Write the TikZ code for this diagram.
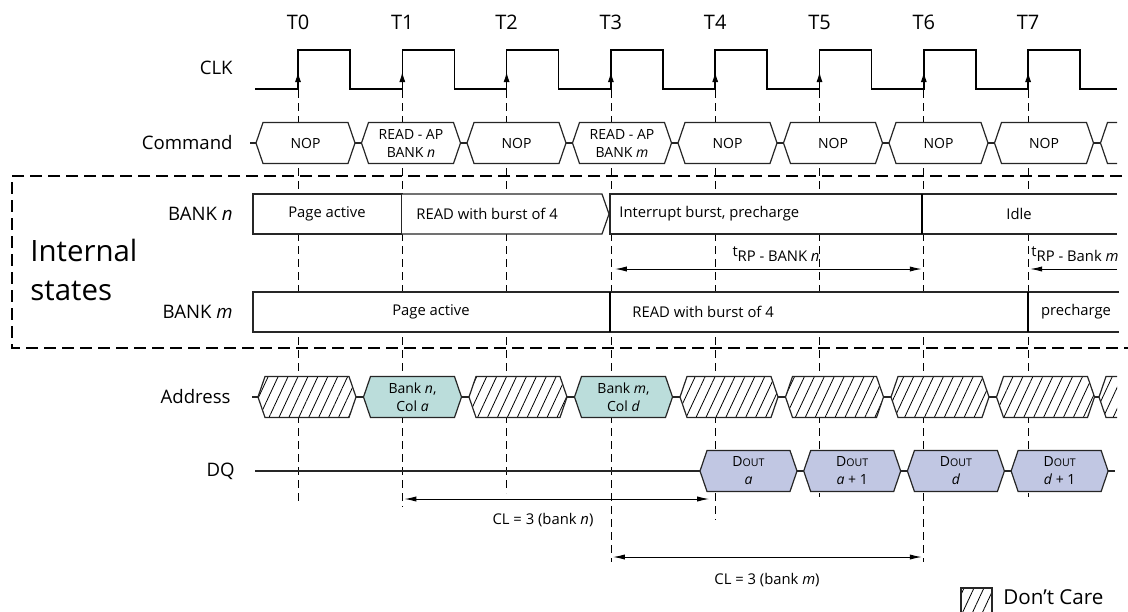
\documentclass[tikz,border=0pt]{standalone}
\usepackage{fontspec}
\setmainfont{Open Sans}
\usetikzlibrary{arrows.meta,patterns.meta}
\pgfdeclarelayer{edgelayer}
\pgfsetlayers{edgelayer,main}
\definecolor{addrfill}{RGB}{187,221,219}
\definecolor{dqfill}{RGB}{193,199,227}
\tikzstyle{clk}=[draw=black, line width=0.75pt]
\tikzstyle{vline}=[draw=black, line width=0.4pt, dash pattern=on 4pt off 2.5pt]
\tikzstyle{statesframe}=[draw=black, line width=1.25pt, dash pattern=on 6pt off 3pt]
\tikzstyle{wire}=[draw=black!85, line width=0.6pt]
\tikzstyle{cell}=[wire, fill=white]
\tikzstyle{addrcell}=[wire, fill=addrfill]
\tikzstyle{dqcell}=[wire, fill=dqfill]
\tikzstyle{dontcarefill}=[preaction={fill=white}, pattern={Lines[angle=65,distance=4.5pt,line width=0.4pt]}]
\tikzstyle{dontcare}=[wire, dontcarefill]
\tikzstyle{statebox}=[wire, fill=white]
\tikzstyle{thickedge}=[draw=black, line width=1pt]
\tikzstyle{dimline}=[draw=black, line width=0.5pt]
\tikzstyle{rowlabel}=[anchor=east, inner sep=0pt, font=\fontsize{9.3}{11}\selectfont]
\tikzstyle{tlabel}=[inner sep=0pt, font=\fontsize{10}{12}\selectfont]
\tikzstyle{celltext}=[align=center, inner sep=0pt, font=\fontsize{7}{9}\selectfont]
\tikzstyle{statetext}=[inner sep=0pt, font=\fontsize{7.4}{9}\selectfont]
% one cell of a bus: left point, right point, middle
\newcommand{\hexcell}[4]{\draw[#1] (#2,#4) -- ({#2+7},{#4-20.5}) -- ({#3-7},{#4-20.5}) -- (#3,#4) -- ({#3-7},{#4+20.5}) -- ({#2+7},{#4+20.5}) -- cycle;}
\newcommand{\dout}{D{\fontsize{5.3}{6}\selectfont OUT}}
\begin{document}
\begin{tikzpicture}[x=0.5pt, y=-0.5pt]
\useasboundingbox (0,0) rectangle (1128,611);

% clock
\foreach \k in {0,...,7}
  \node[tlabel] (T\k) at ({298+104.3*\k},22) {T\k};
\node[rowlabel] (clklabel) at (233,68) {CLK};
\draw[clk] (255,89) foreach \k in {0,...,7} { -- (T\k |- 0,89) -- (T\k |- 0,50) -- ++(52,0) -- ++(0,39) } -- (1117,89);
\foreach \k in {0,...,7}
  \draw[-{Latex[length=5pt,width=3pt]}, line width=0.5pt] (T\k |- 0,89) -- (T\k |- 0,72);

\begin{pgfonlayer}{edgelayer}
\foreach \k/\e in {0/505,1/507,2/493,3/562,4/520,5/497,6/562,7/497}
  \draw[vline] (T\k |- 0,90) -- (T\k |- 0,\e);
\end{pgfonlayer}

% command bus
\node[rowlabel] (cmdlabel) at (233,143) {Command};
\draw[wire] (250,143) -- (256,143);
\foreach \k/\txt in {0/NOP,1/{READ - AP\\BANK \emph{n}},2/NOP,3/{READ - AP\\BANK \emph{m}},4/NOP,5/NOP,6/NOP,7/NOP} {
  \pgfmathsetmacro\xl{256+105.5*\k}
  \hexcell{cell}{\xl}{\xl+99}{143}
  \draw[wire] ({\xl+99},143) -- ({\xl+105.5},143);
  \node[celltext] (cmd\k) at ({\xl+49.5},143) {\txt};
}
\draw[wire] (1117,122.5) -- (1107.5,122.5) -- (1100.5,143) -- (1107.5,163.5) -- (1117,163.5);

% internal states
\draw[statesframe] (1140,176) -- (12,176) -- (12,348) -- (1140,348);
\node[anchor=west, align=left, inner sep=0pt, font=\fontsize{14.7}{19.5}\selectfont] (states) at (30,270) {Internal\\states};

\node[rowlabel] (banknlabel) at (233,214) {BANK \emph{n}};
\draw[statebox] (253,194) rectangle (402,234);
\draw[statebox] (402,194) -- (602,194) -- (609,214) -- (602,234) -- (402,234);
\draw[statebox] (1117,194) -- (610,194) -- (610,234) -- (1117,234);
\draw[thickedge] (922,194) -- (922,234);
\node[statetext] (pagen) at (327,214) {Page active};
\node[statetext, anchor=west] (readn) at (416,214) {READ with burst of 4};
\node[statetext, anchor=west] (intn) at (619,214) {Interrupt burst, precharge};
\node[statetext] (idlen) at (1019,214) {Idle};

\coordinate (rpn) at (0,269);
\draw[dimline, {Latex[length=6pt,width=2.6pt]}-{Latex[length=6pt,width=2.6pt]}] ([xshift=2pt]T3 |- rpn) -- ([xshift=-1pt]T6 |- rpn);
\node[statetext] (rpnlabel) at (776,254) {\raisebox{2.2pt}{t}RP - BANK \emph{n}};
\coordinate (rpmend) at (1117,269);
\draw[dimline, -{Latex[length=6pt,width=2.6pt]}] (rpmend) -- ([xshift=1pt]T7 |- rpmend);
\node[statetext, anchor=west] (rpmlabel) at (1031,254) {\raisebox{2.2pt}{t}RP - Bank \emph{m}};

\node[rowlabel] (bankmlabel) at (233,312) {BANK \emph{m}};
\draw[statebox] (1119,292) -- (253,292) -- (253,332) -- (1119,332);
\draw[thickedge] (610,292) -- (610,332);
\draw[thickedge] (1028,292) -- (1028,332);
\node[statetext] (pagem) at (431,312) {Page active};
\node[statetext, anchor=west] (readm) at (632,312) {READ with burst of 4};
\node[statetext] (prem) at (1076,312) {precharge};

% address bus
\node[rowlabel] (addrlabel) at (231,397) {Address};
\draw[wire] (252,397) -- (258,397);
\foreach \k in {0,...,7} {
  \pgfmathsetmacro\xl{258+105.5*\k}
  \draw[wire] ({\xl+98},397) -- ({\xl+105.5},397);
}
\foreach \k in {0,2,4,5,6,7} {
  \pgfmathsetmacro\xl{258+105.5*\k}
  \hexcell{dontcare}{\xl}{\xl+98}{397}
}
\hexcell{addrcell}{363.5}{461.5}{397}
\node[celltext] (addr1) at (412.5,397) {Bank \emph{n},\\Col \emph{a}};
\hexcell{addrcell}{574.5}{672.5}{397}
\node[celltext] (addr3) at (623.5,397) {Bank \emph{m},\\Col \emph{d}};
\fill[dontcarefill] (1117,376.5) -- (1106,376.5) -- (1099,397) -- (1106,417.5) -- (1117,417.5) -- cycle;
\draw[wire] (1117,376.5) -- (1106,376.5) -- (1099,397) -- (1106,417.5) -- (1117,417.5);

% data bus
\node[rowlabel] (dqlabel) at (235,471) {DQ};
\draw[wire] (255,471) -- (700,471);
\foreach \k/\txt in {0/{\dout\\\emph{a}},1/{\dout\\\emph{a} + 1},2/{\dout\\\emph{d}},3/{\dout\\\emph{d} + 1}} {
  \pgfmathsetmacro\xl{700+103.7*\k}
  \hexcell{dqcell}{\xl}{\xl+97}{471}
  \draw[wire] ({\xl+97},471) -- ({\xl+103.7},471);
  \node[celltext] (dq\k) at ({\xl+48.5},471) {\txt};
}

% latencies
\coordinate (cln) at (0,499);
\draw[dimline, {Latex[length=6pt,width=2.6pt]}-{Latex[length=6pt,width=2.6pt]}] ([xshift=1pt]T1 |- cln) -- ([xshift=-3pt]T4 |- cln);
\node[statetext] (clnlabel) at (543,520) {CL = 3 (bank \emph{n})};
\coordinate (clm) at (0,557);
\draw[dimline, {Latex[length=6pt,width=2.6pt]}-{Latex[length=6pt,width=2.6pt]}] ([xshift=1pt]T3 |- clm) -- ([xshift=-1pt]T6 |- clm);
\node[statetext] (clmlabel) at (767,580) {CL = 3 (bank \emph{m})};

% legend
\draw[dontcare] (961,588) rectangle (992,622);
\node[anchor=west, inner sep=0pt, font=\fontsize{10.3}{12}\selectfont] (dclabel) at (1003,597) {Don’t Care};
\end{tikzpicture}
\end{document}
